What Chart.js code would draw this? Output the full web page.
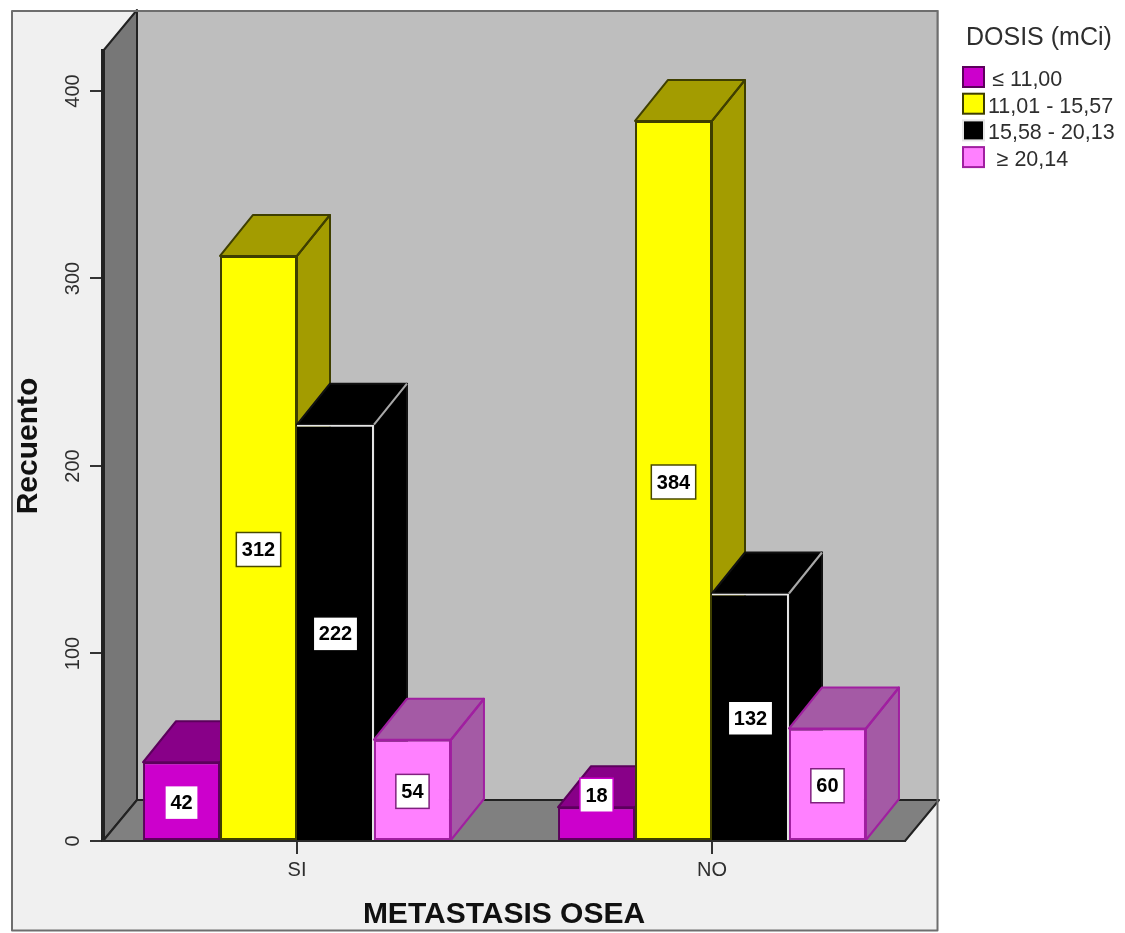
<!DOCTYPE html>
<html>
<head>
<meta charset="utf-8">
<title>Recuento por metastasis osea y dosis</title>
<script src="https://cdn.jsdelivr.net/npm/chart.js@4"></script>
<style>
html, body { margin: 0; padding: 0; background: #fff; }
canvas { display: block; }
</style>
</head>
<body>
<canvas id="bars" width="1125" height="933"></canvas>
<script>
const categories = ["SI", "NO"]
const doseLabels = ["\u2009\u2264 11,00", "11,01 - 15,57", "15,58 - 20,13", "\u2009\u2009\u2265 20,14"]
const dose1 = [42, 18]
const dose2 = [312, 384]
const dose3 = [222, 132]
const dose4 = [54, 60]

const fronts = ["#cc00cc", "#ffff00", "#000000", "#ff80ff"]
const shades = ["#880088", "#a39c00", "#000000", "#a45aa5"]
const edges = ["#5c005c", "#3f3f00", "#e6e6e6", "#a01fa0"]
const faceEdges = ["#5c005c", "#3f3f00", "#111111", "#a01fa0"]
const boxEdges = ["#cc00cc", "#4a4a00", "#000000", "#80207f"]
// the black bars have a light line on their top and right only
const frontBorders = [2, 2, { top: 2, right: 2, bottom: 0, left: 0 }, 2]

const depthX = 33
const depthY = 41
const textColor = "#2e2e2e"
const fontName = '"Liberation Sans"'

Chart.defaults.font.family = fontName

function poly(ctx, pts, fill, stroke) {
    ctx.beginPath()
    pts.forEach((p, i) => i ? ctx.lineTo(p[0], p[1]) : ctx.moveTo(p[0], p[1]))
    ctx.closePath()
    ctx.fillStyle = fill
    ctx.fill()
    if (stroke) {
        ctx.strokeStyle = stroke
        ctx.lineWidth = 2
        ctx.lineJoin = "round"
        ctx.stroke()
    }
}

// panel, side wall and floor behind the bars
function drawRoom(chart) {
    const ctx = chart.ctx
    const left = chart.scales.y.right
    const right = chart.scales.x.right
    const top = chart.scales.y.top
    const bottom = chart.scales.y.bottom
    const wallX = depthX + 1

    ctx.save()
    ctx.fillStyle = "#f0f0f0"
    ctx.fillRect(12, 11, 925.5, 919.5)

    ctx.fillStyle = "#bebebe"
    ctx.fillRect(left + wallX, top - depthY, right - left, bottom - top)

    poly(ctx, [[left, top], [left + wallX, top - depthY], [left + wallX, bottom - depthY], [left, bottom]], "#777777", "#222222")
    poly(ctx, [[left, bottom], [left + wallX, bottom - depthY], [right + wallX, bottom - depthY], [right, bottom]], "#808080", "#222222")

    ctx.strokeStyle = "#6e6e6e"
    ctx.lineWidth = 2
    ctx.strokeRect(12, 11, 925.5, 919.5)
    ctx.restore()
}

// each bar gets its top and side faces first, then the front from the library element
function drawBars(chart) {
    const ctx = chart.ctx
    chart.data.datasets.forEach((ds, d) => {
        chart.getDatasetMeta(d).data.forEach(el => {
            const l = el.x - el.width / 2
            const r = el.x + el.width / 2
            const t = el.y
            const b = el.base
            ctx.save()
            poly(ctx, [[r, t], [r + depthX, t - depthY], [r + depthX, b - depthY], [r, b]], shades[d], faceEdges[d])
            poly(ctx, [[l, t], [l + depthX, t - depthY], [r + depthX, t - depthY], [r, t]], shades[d], faceEdges[d])
            ctx.beginPath()
            ctx.moveTo(r, t)
            ctx.lineTo(r + depthX, t - depthY)
            ctx.strokeStyle = d === 2 ? "#a8a8a8" : faceEdges[d]
            ctx.stroke()
            ctx.restore()
            el.draw(ctx)
        })
    })
}

function drawValueBoxes(chart) {
    const ctx = chart.ctx
    ctx.save()
    ctx.font = "bold 20px " + fontName
    ctx.textAlign = "center"
    ctx.textBaseline = "middle"
    chart.data.datasets.forEach((ds, d) => {
        chart.getDatasetMeta(d).data.forEach((el, i) => {
            const text = String(ds.data[i])
            const w = ctx.measureText(text).width + 11
            const h = 34
            // short bars push the box up over the top face
            const cy = el.base - el.y < h + 6 ? el.y - 12 : (el.y + el.base) / 2 + 1.5
            ctx.fillStyle = "#ffffff"
            ctx.fillRect(el.x - w / 2, cy - h / 2, w, h)
            ctx.strokeStyle = boxEdges[d]
            ctx.lineWidth = 1.5
            ctx.strokeRect(el.x - w / 2, cy - h / 2, w, h)
            ctx.fillStyle = "#000000"
            ctx.fillText(text, el.x, cy + 1)
        })
    })
    ctx.restore()
}

function drawKey(chart) {
    const ctx = chart.ctx
    ctx.save()
    ctx.fillStyle = textColor
    ctx.textBaseline = "middle"
    ctx.font = "25px " + fontName
    ctx.fillText("DOSIS (mCi)", 966, 38)
    ctx.font = "21.5px " + fontName
    chart.data.datasets.forEach((ds, d) => {
        const y = 77 + d * 26.7
        ctx.fillStyle = fronts[d]
        ctx.fillRect(963, y - 10, 21, 20)
        ctx.strokeStyle = edges[d]
        ctx.lineWidth = 2
        ctx.strokeRect(963, y - 10, 21, 20)
        ctx.fillStyle = textColor
        ctx.fillText(ds.label, 988, y + 3)
    })
    ctx.restore()
}

const scene = {
    id: "scene",
    afterLayout(chart) {
        // axes run along the front of the room, the category slots are wider than that
        const x = chart.scales.x
        const y = chart.scales.y
        x.left = 103
        x.right = 905
        y.left += 11
        y.right += 13.5
    },
    beforeDraw: drawRoom,
    beforeDatasetsDraw(chart) {
        drawBars(chart)
        return false
    },
    afterDraw(chart) {
        drawValueBoxes(chart)
        drawKey(chart)
    }
}

const series = [dose1, dose2, dose3, dose4]

new Chart(document.getElementById("bars"), {
    type: "bar",
    data: {
        labels: categories,
        datasets: series.map((values, d) => ({
            label: doseLabels[d],
            data: values,
            backgroundColor: fronts[d],
            borderColor: edges[d],
            borderWidth: frontBorders[d],
            borderSkipped: false,
            inflateAmount: 0,
            categoryPercentage: 0.742,
            barPercentage: 1
        }))
    },
    options: {
        responsive: false,
        animation: false,
        layout: { padding: { left: 0, right: 205.5, top: 51, bottom: 0 } },
        plugins: { legend: { display: false }, tooltip: { enabled: false } },
        scales: {
            x: {
                afterFit(s) { s.height = 92 },
                border: { color: "#2a2a2a", width: 2, z: 1 },
                grid: { offset: false, drawOnChartArea: false, color: "#333333", lineWidth: 2, tickLength: 13 },
                ticks: { color: textColor, font: { size: 20 }, padding: 4, maxRotation: 0 },
                title: {
                    display: true,
                    text: "METASTASIS OSEA",
                    color: "#111111",
                    font: { size: 30, weight: "bold" },
                    padding: { top: 0, bottom: 0 }
                }
            },
            y: {
                min: 0,
                max: 421.33,
                afterFit(s) { s.width = 89.5 },
                border: { color: "#222222", width: 4 },
                grid: { drawOnChartArea: false, color: "#333333", lineWidth: 2, tickLength: 13 },
                ticks: {
                    stepSize: 100,
                    includeBounds: false,
                    minRotation: 90,
                    maxRotation: 90,
                    crossAlign: "center",
                    color: textColor,
                    font: { size: 20 },
                    padding: 0
                },
                title: {
                    display: true,
                    text: "Recuento",
                    color: "#111111",
                    font: { size: 30, weight: "bold" },
                    padding: { top: 0, bottom: 0 }
                }
            }
        }
    },
    plugins: [scene]
})
</script>
</body>
</html>
